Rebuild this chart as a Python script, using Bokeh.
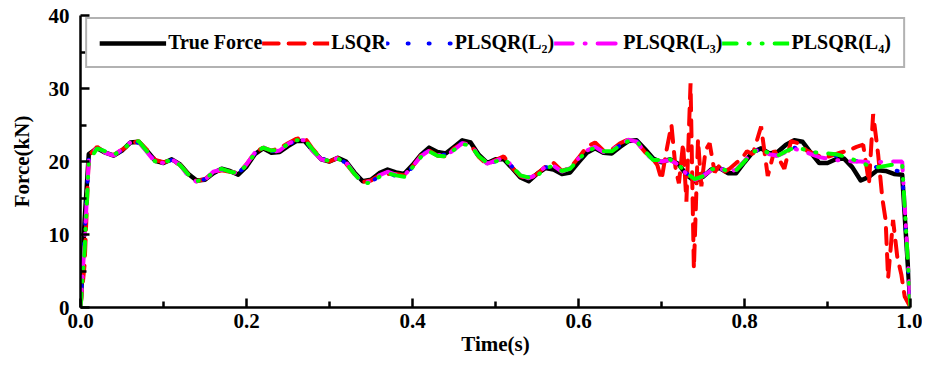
from bokeh.plotting import figure
from bokeh.models import Range1d, FixedTicker, Legend, LegendItem, PrintfTickFormatter
from bokeh.embed import file_html
from bokeh.resources import INLINE

# ---------------- data ----------------
time = [0.0, 0.005, 0.01, 0.02, 0.03, 0.04, 0.05, 0.06, 0.07, 0.08, 0.09,
        0.10, 0.11, 0.12, 0.13, 0.14, 0.15, 0.16, 0.17, 0.18, 0.19,
        0.20, 0.21, 0.22, 0.23, 0.24, 0.25, 0.26, 0.27, 0.28, 0.29,
        0.30, 0.31, 0.32, 0.33, 0.34, 0.35, 0.36, 0.37, 0.38, 0.39,
        0.40, 0.41, 0.42, 0.43, 0.44, 0.45, 0.46, 0.47, 0.48, 0.49,
        0.50, 0.51, 0.52, 0.53, 0.54, 0.55, 0.56, 0.57, 0.58, 0.59,
        0.60, 0.61, 0.62, 0.63, 0.64, 0.65, 0.66, 0.67, 0.68, 0.69,
        0.70, 0.71, 0.72, 0.73, 0.74, 0.75, 0.76, 0.77, 0.78, 0.79,
        0.80, 0.81, 0.82, 0.83, 0.84, 0.85, 0.86, 0.87, 0.88, 0.89,
        0.90, 0.91, 0.92, 0.93, 0.94, 0.95, 0.96, 0.97, 0.98, 0.99,
        0.995, 1.0]

true_force = [0.0, 12.0, 21.0, 21.8, 21.2, 20.8, 21.5, 22.6, 22.7, 21.5, 20.1,
              19.8, 20.3, 19.6, 18.3, 17.4, 17.5, 18.4, 19.0, 18.7, 18.2,
              19.3, 21.0, 21.8, 21.2, 21.3, 22.1, 22.8, 22.8, 21.5, 20.3,
              20.0, 20.5, 20.0, 18.5, 17.3, 17.5, 18.4, 18.9, 18.5, 18.3,
              19.5, 20.9, 21.9, 21.3, 21.1, 22.0, 22.9, 22.6, 20.9, 19.8,
              20.3, 20.3, 19.1, 17.8, 17.3, 18.3, 19.1, 18.9, 18.3, 18.5,
              19.9, 21.2, 21.8, 21.2, 21.1, 22.0, 22.8, 22.9, 21.7, 20.4,
              19.9, 20.3, 19.7, 18.2, 17.3, 17.9, 18.9, 19.1, 18.4, 18.4,
              19.9, 21.3, 21.8, 21.1, 21.3, 22.3, 22.9, 22.7, 21.2, 19.8,
              19.8, 20.3, 20.4, 19.2, 17.4, 17.9, 18.8, 18.7, 18.3, 18.2,
              9.0, 0.0]

plsqr_l2 = [0.0, 10.0, 20.5, 21.9, 21.3, 20.7, 21.6, 22.5, 22.6, 21.4, 20.0,
            19.9, 20.2, 19.4, 18.1, 17.2, 17.6, 18.5, 18.9, 18.6, 18.4,
            19.5, 21.1, 21.9, 21.4, 21.6, 22.3, 22.9, 23.0, 21.5, 20.4,
            20.1, 20.4, 19.8, 18.4, 17.0, 17.2, 18.0, 18.5, 18.0, 18.0,
            19.2, 20.8, 21.6, 21.0, 20.9, 21.7, 22.6, 22.2, 20.7, 19.8,
            20.0, 20.4, 19.3, 18.2, 17.8, 18.1, 19.2, 19.3, 18.7, 19.0,
            20.3, 21.4, 21.9, 21.4, 21.5, 22.2, 22.9, 22.8, 21.4, 20.2,
            20.1, 20.3, 19.5, 18.4, 17.6, 18.1, 18.9, 19.2, 18.6, 18.8,
            20.0, 21.3, 21.7, 21.0, 20.8, 21.4, 21.9, 21.6, 21.3, 21.1,
            21.0, 20.8, 20.5, 20.2, 19.9, 19.5, 19.2, 19.0, 18.8, 18.6,
            9.0, 0.0]

plsqr_l3 = [0.0, 9.0, 20.3, 22.0, 21.2, 20.8, 21.7, 22.6, 22.7, 21.3, 19.9,
            19.8, 20.3, 19.5, 18.0, 17.2, 17.5, 18.6, 18.9, 18.7, 18.3,
            19.6, 21.2, 22.0, 21.3, 21.5, 22.4, 23.0, 22.9, 21.4, 20.3,
            20.0, 20.5, 19.9, 18.3, 17.1, 17.3, 18.1, 18.6, 18.2, 18.1,
            19.3, 20.7, 21.5, 20.9, 20.8, 21.6, 22.5, 22.3, 20.8, 19.7,
            20.1, 20.5, 19.4, 18.1, 17.7, 18.2, 19.3, 19.4, 18.6, 19.1,
            20.4, 21.5, 22.0, 21.3, 21.6, 22.3, 23.0, 22.7, 21.3, 20.1,
            20.0, 20.2, 19.6, 18.3, 17.5, 18.0, 18.8, 19.1, 18.5, 18.9,
            20.1, 21.4, 21.6, 21.0, 20.8, 21.3, 21.7, 21.5, 21.0, 20.6,
            20.4, 20.2, 20.1, 20.0, 20.0, 19.9, 19.9, 20.0, 20.0, 20.0,
            10.0, 0.0]

plsqr_l4 = [0.0, 8.0, 20.0, 21.8, 21.4, 20.9, 21.6, 22.5, 22.8, 21.4, 20.0,
            19.9, 20.2, 19.5, 18.2, 17.3, 17.6, 18.5, 19.0, 18.6, 18.4,
            19.5, 21.1, 21.9, 21.5, 21.6, 22.4, 22.9, 23.0, 21.6, 20.3,
            20.1, 20.4, 19.8, 18.3, 17.0, 17.1, 17.9, 18.4, 18.1, 17.9,
            19.2, 20.6, 21.4, 20.8, 20.7, 21.6, 22.4, 22.2, 20.7, 19.8,
            20.0, 20.4, 19.3, 18.1, 17.8, 18.0, 19.1, 19.4, 18.7, 19.0,
            20.3, 21.4, 21.9, 21.4, 21.4, 22.2, 22.8, 22.8, 21.4, 20.2,
            20.2, 20.3, 19.6, 18.4, 17.6, 18.0, 18.9, 19.2, 18.6, 18.8,
            20.0, 21.3, 21.7, 21.1, 20.8, 21.4, 21.9, 21.7, 21.3, 21.2,
            21.1, 21.0, 20.7, 20.3, 19.9, 19.4, 19.2, 19.4, 19.6, 19.6,
            10.0, 0.0]

lsqr_time = [0.0, 0.005, 0.01, 0.02, 0.03, 0.04, 0.05, 0.06, 0.07, 0.08, 0.09,
             0.10, 0.11, 0.12, 0.13, 0.14, 0.15, 0.16, 0.17, 0.18, 0.19,
             0.20, 0.21, 0.22, 0.23, 0.24, 0.25, 0.26, 0.27, 0.28, 0.29,
             0.30, 0.31, 0.32, 0.33, 0.34, 0.35, 0.36, 0.37, 0.38, 0.39,
             0.40, 0.41, 0.42, 0.43, 0.44, 0.45, 0.46, 0.47, 0.48, 0.49,
             0.50, 0.51, 0.52, 0.53, 0.54, 0.55, 0.56, 0.57, 0.58, 0.59,
             0.60, 0.61, 0.62, 0.63, 0.64, 0.65, 0.66, 0.67, 0.68, 0.69,
             0.695, 0.700, 0.706, 0.712, 0.717, 0.721, 0.726, 0.730, 0.735,
             0.739, 0.744, 0.748, 0.753, 0.758, 0.764, 0.770, 0.776, 0.782,
             0.790, 0.796, 0.803, 0.810, 0.820, 0.828, 0.836, 0.848, 0.856,
             0.865, 0.875, 0.885, 0.895, 0.905, 0.915, 0.925, 0.935, 0.943,
             0.950, 0.955, 0.961, 0.966, 0.970, 0.973, 0.979, 0.984, 0.989,
             0.993, 1.0]

lsqr = [0.0, 6.0, 20.8, 22.0, 21.2, 20.9, 21.6, 22.4, 22.8, 21.6, 20.2,
        19.9, 20.2, 19.5, 18.2, 17.3, 17.6, 18.5, 18.8, 18.6, 18.4,
        19.6, 21.2, 21.9, 21.5, 21.8, 22.5, 23.1, 23.3, 21.7, 20.4,
        20.0, 20.5, 19.7, 18.3, 17.2, 17.4, 18.1, 18.3, 18.3, 18.1,
        19.3, 20.8, 21.5, 20.8, 20.7, 21.8, 22.5, 22.3, 20.6, 19.6,
        20.2, 20.7, 19.2, 18.0, 17.6, 18.3, 19.3, 19.8, 18.7, 19.1,
        20.5, 22.0, 22.6, 21.5, 21.6, 22.5, 23.0, 22.7, 21.3, 20.3,
        19.5, 17.5, 21.5, 25.0, 19.0, 17.0, 22.5, 14.5, 30.7,
        5.3, 23.0, 16.6, 21.5, 22.5, 18.5, 19.5, 18.6, 19.0,
        19.8, 20.3, 21.4, 21.0, 24.8, 18.0, 21.5, 19.0, 22.8,
        22.5, 21.5, 21.0, 20.5, 20.8, 21.2, 21.5, 22.0, 22.3,
        17.0, 26.5, 21.0, 15.0, 12.0, 4.0, 12.0, 7.0, 4.5,
        1.5, 0.0]

series_labels = ["True Force", "LSQR", "PLSQR(L\u2082)", "PLSQR(L\u2083)", "PLSQR(L\u2084)"]

x_ticks = [0.0, 0.2, 0.4, 0.6, 0.8, 1.0]
x_minor = [0.1, 0.3, 0.5, 0.7, 0.9]
y_ticks = [0, 10, 20, 30, 40]
y_minor = [5, 15, 25, 35]

# ---------------- figure ----------------
FONT = "Liberation Serif"

p = figure(width=922, height=358, output_backend="svg", toolbar_location=None,
           x_range=Range1d(0, 1), y_range=Range1d(0, 40),
           min_border_left=80, min_border_right=12, min_border_top=15,
           min_border_bottom=48)
p.grid.visible = False
p.outline_line_color = None
p.background_fill_color = "white"
p.border_fill_color = "white"

r_true = p.line(time, true_force, line_color="black", line_width=4.5, line_join="round")
r_lsqr = p.line(lsqr_time, lsqr, line_color="#ff0000", line_width=4,
                line_dash="16 10", line_cap="round")
r_l2 = p.line(time, plsqr_l2, line_color="#0000ff", line_width=4,
              line_dash="1 20", line_cap="round")
r_l3 = p.line(time, plsqr_l3, line_color="#ff00ff", line_width=4,
              line_dash="18 12 1 12", line_cap="round")
r_l4 = p.line(time, plsqr_l4, line_color="#00ff00", line_width=4,
              line_dash="14 12 1 12 1 12", line_cap="round")

legend = Legend(items=[LegendItem(label=lab, renderers=[r]) for lab, r in
                       zip(series_labels, [r_true, r_lsqr, r_l2, r_l3, r_l4])],
                orientation="horizontal", location="top_center")
legend.label_text_font = FONT
legend.label_text_font_style = "bold"
legend.label_text_font_size = "20px"
legend.label_text_color = "black"
legend.glyph_width = 67
legend.glyph_height = 20
legend.label_height = 20
legend.label_standoff = 2
legend.spacing = 0
legend.padding = 12
legend.margin = 2
legend.border_line_color = "#666666"
legend.border_line_width = 2
legend.background_fill_alpha = 1.0
p.add_layout(legend)

for ax in (p.xaxis[0], p.yaxis[0]):
    ax.axis_line_width = 2.5
    ax.axis_line_color = "black"
    ax.major_tick_in = 9
    ax.major_tick_out = 0
    ax.minor_tick_in = 6
    ax.minor_tick_out = 0
    ax.major_tick_line_width = 2.5
    ax.minor_tick_line_width = 2.5
    ax.major_label_text_font = FONT
    ax.major_label_text_font_style = "bold"
    ax.major_label_text_font_size = "21px"
    ax.major_label_text_color = "black"
    ax.axis_label_text_font = FONT
    ax.axis_label_text_font_style = "bold"
    ax.axis_label_text_font_size = "21px"
    ax.axis_label_text_color = "black"

p.xaxis[0].ticker = FixedTicker(ticks=x_ticks, minor_ticks=x_minor)
p.xaxis[0].formatter = PrintfTickFormatter(format="%.1f")
p.xaxis[0].major_label_standoff = 6
p.xaxis[0].axis_label = "Time(s)"
p.xaxis[0].axis_label_standoff = 1

p.yaxis[0].ticker = FixedTicker(ticks=y_ticks, minor_ticks=y_minor)
p.yaxis[0].major_label_standoff = 11
p.yaxis[0].axis_label = "Force(kN)"
p.yaxis[0].axis_label_standoff = 12

open("out.html", "w").write(file_html(p, INLINE))
